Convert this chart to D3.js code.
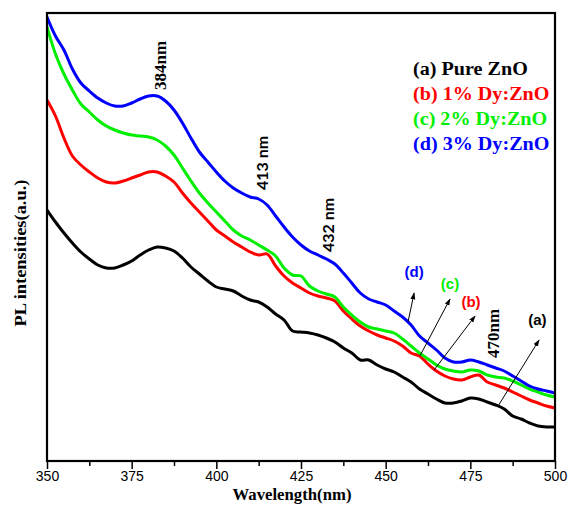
<!DOCTYPE html>
<html>
<head>
<meta charset="utf-8">
<script src="https://cdn.jsdelivr.net/npm/d3@7"></script>
<style>
  html, body { margin: 0; padding: 0; background: #fff; }
  svg { display: block; }
</style>
</head>
<body>
<svg id="chart" width="568" height="513"></svg>
<script>
// Emission wavelength grid (nm), 2.5 nm steps
const wavelength = d3.range(350, 500.01, 2.5);

// PL intensity (a.u.) for each sample, sampled on the wavelength grid
const pureZnO = [251,239,228,218,209,202,196,193,193,196,200,206,211,214,213,210,203,194,187,180,
  174,172,170,165,161,159,154,147,141,130,129,128,126,123,119,113,108,101,101,96,
  92,89,84,79,72,67,62,58,58,60,63,62,59,56,52,45,42,38,35,34,34];
const dy1 = [361,345,323,305,296,289,283,279,278,280,283,286,289,289,285,279,268,258,249,240,
  231,225,219,214,209,206,207,195,185,178,173,168,165,163,160,150,142,135,130,126,
  123,120,115,108,105,97,90,85,82,81,84,86,79,76,73,69,65,61,58,55,53];
const dy2 = [434,407,387,371,357,349,341,335,331,328,326,325,324,321,315,306,293,280,268,258,
  249,240,231,225,221,216,211,205,193,186,185,175,170,167,164,154,146,139,134,132,
  130,128,122,115,108,102,96,92,90,89,91,90,86,84,83,80,76,72,69,66,64];
const dy3 = [444,425,411,392,378,370,363,358,355,355,358,362,365,365,360,351,338,323,309,299,
  289,280,273,268,264,262,256,245,234,224,216,210,206,202,197,188,178,168,162,159,
  156,150,144,136,125,118,111,103,99,99,101,99,96,93,90,85,80,75,72,70,68];

const seriesNames = ["(a) Pure ZnO", "(b) 1% Dy:ZnO", "(c) 2% Dy:ZnO", "(d) 3% Dy:ZnO"];
const seriesShort = ["(a)", "(b)", "(c)", "(d)"];
const seriesValues = [pureZnO, dy1, dy2, dy3];
const seriesColors = ["#000000", "#ff0000", "#00ee00", "#0000ff"];

const xTicks = [350, 375, 400, 425, 450, 475, 500];
const xMinorTicks = [362.5, 387.5, 412.5, 437.5, 462.5, 487.5];

// Peak markers: label and anchor (wavelength, intensity) of the text start
const peakLabels = ["384nm", "413 nm", "432 nm", "470nm"];
const peakAt = [[385.1, 371], [415.3, 271], [434.7, 209], [483.5, 103]];

// Arrow annotations for each curve: [from], [to], label centre
const arrowFrom = [[483.2, 55], [464.3, 91], [460.1, 105], [456.6, 139]];
const arrowTo = [[495.3, 121], [476.4, 145], [469.0, 162], [458.4, 168]];
const arrowLabelAt = [[494.8, 136], [475.2, 154], [469.0, 172], [458.4, 184]];

const margin = { top: 13, right: 13, bottom: 52, left: 47 };
const W = 568, H = 513;
const iw = W - margin.left - margin.right;
const ih = H - margin.top - margin.bottom;

const svg = d3.select("#chart");
const g = svg.append("g").attr("transform", `translate(${margin.left},${margin.top})`);

const x = d3.scaleLinear().domain([350, 500]).range([0, iw]);
const y = d3.scaleLinear().domain([0, 448]).range([ih, 0]);

g.append("defs").append("clipPath").attr("id", "plot-clip")
  .append("rect").attr("width", iw).attr("height", ih);

const defs = svg.append("defs");
defs.append("marker")
  .attr("id", "arrowhead")
  .attr("viewBox", "0 0 10 10")
  .attr("refX", 9).attr("refY", 5)
  .attr("markerWidth", 7).attr("markerHeight", 7)
  .attr("orient", "auto")
  .append("path").attr("d", "M0,1.5 L10,5 L0,8.5 Z").attr("fill", "#000");

// Spectra
const line = d3.line()
  .x((d, i) => x(wavelength[i]))
  .y(d => y(d))
  .curve(d3.curveCatmullRom.alpha(0.5));

g.append("g").attr("clip-path", "url(#plot-clip)")
  .selectAll("path.spectrum")
  .data(seriesValues)
  .join("path")
  .attr("class", "spectrum")
  .attr("d", d => line(d))
  .attr("fill", "none")
  .attr("stroke", (d, i) => seriesColors[i])
  .attr("stroke-width", 3)
  .attr("stroke-linejoin", "round")
  .attr("stroke-linecap", "round");

// Bottom axis with major and minor ticks
const xAxis = d3.axisBottom(x).tickValues(xTicks).tickSize(8).tickFormat(d3.format("d"));
const ax = g.append("g").attr("transform", `translate(0,${ih})`).call(xAxis);
ax.select(".domain").remove();
ax.selectAll(".tick line").attr("stroke", "#000").attr("stroke-width", 1.5);
ax.selectAll(".tick text")
  .attr("y", 10)
  .attr("font-family", "'Liberation Sans', Arial, sans-serif")
  .attr("font-size", 14)
  .attr("fill", "#000");

const minorAxis = d3.axisBottom(x).tickValues(xMinorTicks).tickSize(5).tickFormat("");
const mx = g.append("g").attr("transform", `translate(0,${ih})`).call(minorAxis);
mx.select(".domain").remove();
mx.selectAll(".tick line").attr("stroke", "#000").attr("stroke-width", 1.5);

// Frame
g.append("rect")
  .attr("width", iw).attr("height", ih)
  .attr("fill", "none").attr("stroke", "#000").attr("stroke-width", 2.2);

// Axis titles
svg.append("text")
  .attr("x", 292).attr("y", 500)
  .attr("text-anchor", "middle")
  .attr("font-family", "'Liberation Serif', 'Times New Roman', serif")
  .attr("font-weight", "bold")
  .attr("font-size", 16.5)
  .attr("textLength", 119)
  .attr("lengthAdjust", "spacingAndGlyphs")
  .text("Wavelength(nm)");

svg.append("text")
  .attr("transform", "translate(26,253) rotate(-90)")
  .attr("text-anchor", "middle")
  .attr("font-family", "'Liberation Serif', 'Times New Roman', serif")
  .attr("font-weight", "bold")
  .attr("font-size", 16.5)
  .attr("textLength", 147)
  .attr("lengthAdjust", "spacingAndGlyphs")
  .text("PL intensities(a.u.)");

// Legend
const legend = svg.append("g").attr("transform", "translate(413,75) scale(1.06,1)");
legend.selectAll("text")
  .data(seriesNames)
  .join("text")
  .attr("x", 0)
  .attr("y", (d, i) => i * 25)
  .attr("fill", (d, i) => seriesColors[i])
  .attr("font-family", "'Liberation Serif', 'Times New Roman', serif")
  .attr("font-weight", "bold")
  .attr("font-size", 19)
  .text(d => d);

// Peak position labels
const peakFonts = [
  { family: "'Liberation Serif', serif", weight: "bold", size: 17 },
  { family: "Lato, 'Open Sans', sans-serif", weight: "bold", size: 16 },
  { family: "Lato, 'Open Sans', sans-serif", weight: "bold", size: 16 },
  { family: "'Liberation Serif', serif", weight: "bold", size: 17 }
];
g.selectAll("text.peak")
  .data(peakLabels)
  .join("text")
  .attr("class", "peak")
  .attr("transform", (d, i) => `translate(${x(peakAt[i][0])},${y(peakAt[i][1])}) rotate(-90)`)
  .attr("font-family", (d, i) => peakFonts[i].family)
  .attr("font-weight", (d, i) => peakFonts[i].weight)
  .attr("font-size", (d, i) => peakFonts[i].size)
  .attr("fill", "#000")
  .text(d => d);

// Arrows pointing from each curve to its label
g.selectAll("line.arrow")
  .data(arrowFrom)
  .join("line")
  .attr("class", "arrow")
  .attr("x1", d => x(d[0])).attr("y1", d => y(d[1]))
  .attr("x2", (d, i) => x(arrowTo[i][0])).attr("y2", (d, i) => y(arrowTo[i][1]))
  .attr("stroke", "#000").attr("stroke-width", 1)
  .attr("marker-end", "url(#arrowhead)");

g.selectAll("text.curve-label")
  .data(seriesShort)
  .join("text")
  .attr("class", "curve-label")
  .attr("x", (d, i) => x(arrowLabelAt[i][0]))
  .attr("y", (d, i) => y(arrowLabelAt[i][1]))
  .attr("text-anchor", "middle")
  .attr("fill", (d, i) => seriesColors[i])
  .attr("font-family", "'Liberation Sans', Arial, sans-serif")
  .attr("font-weight", "bold")
  .attr("font-size", 15)
  .text(d => d);
</script>
</body>
</html>
